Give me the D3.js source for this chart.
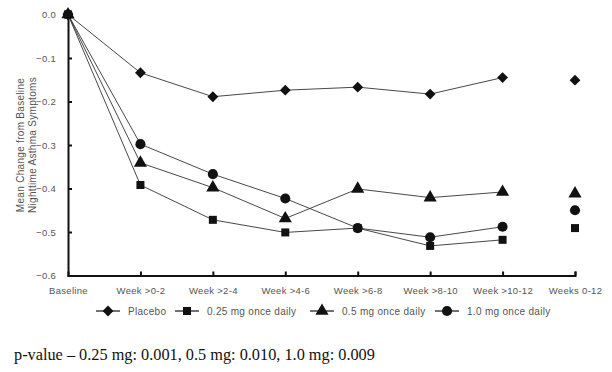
<!DOCTYPE html>
<html>
<head>
<meta charset="utf-8">
<script src="https://cdn.jsdelivr.net/npm/d3@7"></script>
<style>
  body { margin: 0; background: #fff; }
  svg text { font-family: "Liberation Sans", Arial, sans-serif; }
</style>
</head>
<body>
<div id="chart"></div>
<script>
let periods = ["Baseline", "Week >0-2", "Week >2-4", "Week >4-6", "Week >6-8", "Week >8-10", "Week >10-12", "Weeks 0-12"];
let seriesNames = ["Placebo", "0.25 mg once daily", "0.5 mg once daily", "1.0 mg once daily"];
let placebo = [0, -0.134, -0.189, -0.174, -0.167, -0.183, -0.145, -0.151];
let mg025 = [0, -0.392, -0.472, -0.501, -0.491, -0.532, -0.518, -0.491];
let mg05 = [0, -0.341, -0.398, -0.469, -0.401, -0.421, -0.408, -0.412];
let mg10 = [0, -0.298, -0.367, -0.423, -0.491, -0.512, -0.488, -0.450];
let yTicks = [0, -0.1, -0.2, -0.3, -0.4, -0.5, -0.6];
let footnote = "p-value \u2013 0.25 mg: 0.001, 0.5 mg: 0.010, 1.0 mg: 0.009";

let width = 612, height = 372;
let symbols = [d3.symbolDiamond2, d3.symbolSquare, d3.symbolTriangle, d3.symbolCircle];
let symSizes = [75, 64, 75, 80];
let allSeries = [placebo, mg025, mg05, mg10];

let svg = d3.select("#chart").append("svg")
  .attr("width", width)
  .attr("height", height);

let x = d3.scalePoint()
  .domain(periods)
  .range([68, 575]);

let y = d3.scaleLinear()
  .domain([-0.6, 0])
  .range([275.5, 14.5]);

// axes
let yAxis = d3.axisLeft(y).tickValues(yTicks).tickFormat(d3.format(".1f")).tickSize(-4).tickPadding(12);
let xAxis = d3.axisBottom(x).tickSize(-4).tickPadding(12);

let gy = svg.append("g").attr("transform", "translate(68,0)").call(yAxis);
let gx = svg.append("g").attr("transform", "translate(0,275.5)").call(xAxis);

[gy, gx].forEach(g => {
  g.select(".domain").attr("stroke", "#111").attr("stroke-width", 2);
  g.selectAll(".tick line").attr("stroke", "#111").attr("stroke-width", 2);
  g.selectAll(".tick text").attr("fill", "#555").style("font-size", "9.5px").style("letter-spacing", "0.3px");
});
gy.selectAll(".tick").filter(d => d === 0 || d === -0.6).select("line").remove();
gx.selectAll(".tick").filter(d => d === "Baseline").select("line").remove();

// y label
let ylab = svg.append("text")
  .attr("transform", "translate(26.5,145) rotate(-90)")
  .attr("text-anchor", "middle")
  .attr("fill", "#555")
  .style("font-size", "10px")
  .style("letter-spacing", "0.3px");
ylab.append("tspan").attr("x", 0).attr("dy", "-0.25em").text("Mean Change from Baseline");
ylab.append("tspan").attr("x", 0).attr("dy", "1.15em").text("Nighttime Asthma Symptoms");

// lines (Weeks 0-12 not connected)
let line = d3.line()
  .x((d, i) => x(periods[i]))
  .y(d => y(d));

allSeries.forEach((s, k) => {
  svg.append("path")
    .datum(s.slice(0, 7))
    .attr("d", line)
    .attr("fill", "none")
    .attr("stroke", "#333")
    .attr("stroke-width", 0.9);
});

allSeries.forEach((s, k) => {
  svg.append("g").selectAll("path")
    .data(s)
    .enter()
    .append("path")
    .attr("transform", (d, i) => "translate(" + x(periods[i]) + "," + y(d) + ")")
    .attr("d", d3.symbol().type(symbols[k]).size(symSizes[k]))
    .attr("fill", "#111");
});

// legend
let legendX = [108, 187, 322, 447];
let legend = svg.append("g").attr("transform", "translate(0,311)");
seriesNames.forEach((name, k) => {
  let g = legend.append("g").attr("transform", "translate(" + legendX[k] + ",0)");
  g.append("line").attr("x1", -12).attr("x2", 12).attr("stroke", "#111").attr("stroke-width", 1.2);
  g.append("path").attr("d", d3.symbol().type(symbols[k]).size(symSizes[k])).attr("fill", "#111");
  g.append("text").attr("x", 20).attr("dy", "0.35em")
    .attr("fill", "#555").style("font-size", "10px").style("letter-spacing", "0.3px").text(name);
});

svg.append("text")
  .attr("x", 14)
  .attr("y", 360)
  .attr("fill", "#111")
  .style("font-family", "'Liberation Serif', 'Times New Roman', serif")
  .style("font-size", "16.3px")
  .text(footnote);
</script>
</body>
</html>
